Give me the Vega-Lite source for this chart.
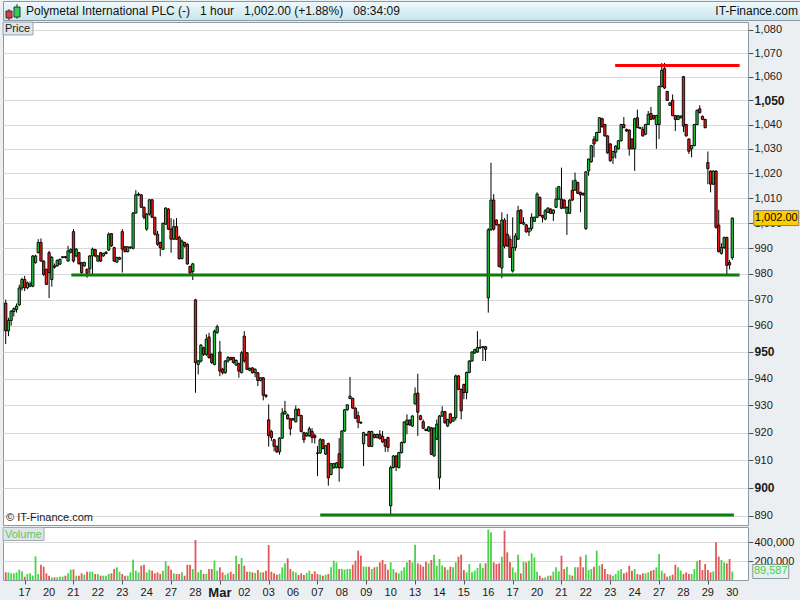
{
"$schema": "https://vega.github.io/schema/vega-lite/v6.json",
"padding": 0,
"spacing": 2,
"bounds": "flush",
"background": "#eceff1",
"config": {
  "font": "Liberation Sans",
  "view": {"stroke": "#8d99a3", "fill": "#ffffff"},
  "axis": {"labelFont": "Liberation Sans", "labelColor": "#1a1a1a", "tickColor": "#555555", "domain": false, "title": null}
},
"datasets": {
"days": [
{"i":0,"d":"17"},{"i":9,"d":"20"},{"i":18,"d":"21"},{"i":27,"d":"22"},{"i":36,"d":"23"},{"i":45,"d":"24"},{"i":54,"d":"27"},{"i":63,"d":"28"},{"i":72,"d":"Mar"},{"i":81,"d":"02"},
{"i":90,"d":"03"},{"i":99,"d":"06"},{"i":108,"d":"07"},{"i":117,"d":"08"},{"i":126,"d":"09"},{"i":135,"d":"10"},{"i":144,"d":"13"},{"i":153,"d":"14"},{"i":162,"d":"15"},{"i":171,"d":"16"},
{"i":180,"d":"17"},{"i":189,"d":"20"},{"i":198,"d":"21"},{"i":207,"d":"22"},{"i":216,"d":"23"},{"i":225,"d":"24"},{"i":234,"d":"27"},{"i":243,"d":"28"},{"i":252,"d":"29"},{"i":261,"d":"30"}
],
"k": [
{"i":-7,"o":968.7,"h":970,"l":953,"c":958,"v":80700},
{"i":-6,"o":958,"h":963,"l":956,"c":962,"v":80700},
{"i":-5,"o":962,"h":966,"l":960,"c":965.5,"v":70200},
{"i":-4,"o":965.4,"h":967,"l":963.5,"c":966.5,"v":70200},
{"i":-3,"o":966.2,"h":968.5,"l":965,"c":967.5,"v":80700},
{"i":-2,"o":968,"h":975.8,"l":967.5,"c":974.5,"v":108800},
{"i":-1,"o":974.5,"h":978.5,"l":973.5,"c":977.8,"v":91200},
{"i":0,"o":977.8,"h":979.2,"l":973.3,"c":974.6,"v":35100},
{"i":1,"o":974.6,"h":977,"l":974,"c":976.5,"v":63200},
{"i":2,"o":975.2,"h":977,"l":974.8,"c":976,"v":70200},
{"i":3,"o":975.2,"h":987.3,"l":974.8,"c":987,"v":45600},
{"i":4,"o":984.4,"h":987.5,"l":984,"c":987,"v":249100},
{"i":5,"o":988.3,"h":993.6,"l":988,"c":992.3,"v":63200},
{"i":6,"o":992.3,"h":993.9,"l":984.8,"c":985,"v":161400},
{"i":7,"o":985,"h":985.3,"l":979.2,"c":979.8,"v":140400},
{"i":8,"o":981.8,"h":982,"l":975.6,"c":975.9,"v":70200},
{"i":9,"o":988.3,"h":989,"l":970.6,"c":980.5,"v":45600},
{"i":10,"o":977.8,"h":987,"l":975,"c":986.4,"v":28100},
{"i":11,"o":983.1,"h":984,"l":982,"c":982.6,"v":28100},
{"i":12,"o":983.1,"h":985.6,"l":982.8,"c":985.3,"v":28100},
{"i":13,"o":983.8,"h":986,"l":983.5,"c":985.7,"v":35100},
{"i":14,"o":986.4,"h":986.9,"l":986,"c":986.7,"v":35100},
{"i":15,"o":986.7,"h":987,"l":986,"c":986.4,"v":45600},
{"i":16,"o":985,"h":991,"l":984.8,"c":989,"v":70200},
{"i":17,"o":988.5,"h":990,"l":988,"c":989.5,"v":108800},
{"i":18,"o":996.6,"h":997.6,"l":984.4,"c":985,"v":112300},
{"i":19,"o":987,"h":990,"l":986.5,"c":989.7,"v":45600},
{"i":20,"o":988.3,"h":988.6,"l":983.5,"c":984,"v":45600},
{"i":21,"o":984.4,"h":984.6,"l":979.8,"c":980.5,"v":70200},
{"i":22,"o":983.1,"h":984.8,"l":982.8,"c":984.4,"v":56100},
{"i":23,"o":981.8,"h":982,"l":978.5,"c":980.2,"v":87700},
{"i":24,"o":982,"h":987.3,"l":980,"c":987,"v":87700},
{"i":25,"o":987,"h":990.3,"l":979.9,"c":989.7,"v":87700},
{"i":26,"o":989.5,"h":989.8,"l":986.5,"c":987,"v":63200},
{"i":27,"o":985,"h":987.3,"l":984.8,"c":987,"v":63200},
{"i":28,"o":988.3,"h":988.6,"l":984.6,"c":985,"v":45600},
{"i":29,"o":987,"h":988.3,"l":986.7,"c":988,"v":45600},
{"i":30,"o":988,"h":988.8,"l":987.6,"c":988.5,"v":45600},
{"i":31,"o":989.3,"h":996.3,"l":989,"c":995.6,"v":63200},
{"i":32,"o":995.8,"h":996,"l":990.6,"c":991,"v":70200},
{"i":33,"o":990.3,"h":990.6,"l":984.6,"c":985,"v":115800},
{"i":34,"o":984.6,"h":986.7,"l":984.3,"c":986.4,"v":133300},
{"i":35,"o":985.7,"h":986.7,"l":985.4,"c":986.4,"v":87700},
{"i":36,"o":996.6,"h":997.6,"l":980.5,"c":989.7,"v":63200},
{"i":37,"o":990.6,"h":991,"l":988.4,"c":988.7,"v":45600},
{"i":38,"o":988.7,"h":990.9,"l":988.4,"c":990.6,"v":45600},
{"i":39,"o":990.2,"h":990.8,"l":989.8,"c":990.5,"v":80700},
{"i":40,"o":990,"h":1004.4,"l":989.6,"c":1004,"v":214000},
{"i":41,"o":1004,"h":1013.2,"l":1003.8,"c":1011.3,"v":98300},
{"i":42,"o":1011.3,"h":1012.3,"l":1010.8,"c":1011.6,"v":80700},
{"i":43,"o":1011.3,"h":1011.6,"l":1006,"c":1006.3,"v":150900},
{"i":44,"o":1006.3,"h":1006.6,"l":1001.5,"c":1002.3,"v":161400},
{"i":45,"o":997.6,"h":1004,"l":996.9,"c":1003.6,"v":80700},
{"i":46,"o":1003.6,"h":1009.6,"l":1003,"c":1009.3,"v":108800},
{"i":47,"o":1009.3,"h":1009.6,"l":1002,"c":1002.3,"v":98300},
{"i":48,"o":1002.3,"h":1002.5,"l":995,"c":995.6,"v":70200},
{"i":49,"o":995.6,"h":996.9,"l":991,"c":991.6,"v":80700},
{"i":50,"o":992.3,"h":992.6,"l":986.9,"c":990.3,"v":63200},
{"i":51,"o":989.6,"h":1000.2,"l":989.3,"c":999.9,"v":98300},
{"i":52,"o":999.6,"h":1006.3,"l":999.3,"c":1006,"v":196500},
{"i":53,"o":1005.6,"h":1006,"l":997.3,"c":997.6,"v":150900},
{"i":54,"o":997.6,"h":1002,"l":988.3,"c":993.6,"v":108800},
{"i":55,"o":993.6,"h":1001.5,"l":993.3,"c":998.6,"v":70200},
{"i":56,"o":998.6,"h":1002,"l":993.3,"c":993.6,"v":63200},
{"i":57,"o":994.3,"h":995,"l":985.5,"c":986,"v":63200},
{"i":58,"o":986,"h":993.5,"l":985.7,"c":992.9,"v":80700},
{"i":59,"o":992.3,"h":992.6,"l":990.3,"c":990.9,"v":45600},
{"i":60,"o":991.6,"h":992,"l":983.5,"c":983.9,"v":161400},
{"i":61,"o":982.9,"h":983.2,"l":979.6,"c":980.3,"v":161400},
{"i":62,"o":980.9,"h":984.3,"l":977.6,"c":983.9,"v":115800},
{"i":63,"o":969.9,"h":970.3,"l":934.7,"c":946,"v":421100},
{"i":64,"o":945.3,"h":947,"l":941.6,"c":946.6,"v":80700},
{"i":65,"o":946.6,"h":953,"l":946,"c":952.6,"v":108800},
{"i":66,"o":951.6,"h":952,"l":948.5,"c":949.1,"v":63200},
{"i":67,"o":949.1,"h":956.7,"l":948.5,"c":954.8,"v":63200},
{"i":68,"o":955.7,"h":957.3,"l":947.5,"c":947.9,"v":115800},
{"i":69,"o":949.1,"h":949.5,"l":945.5,"c":946,"v":115800},
{"i":70,"o":945.3,"h":958.5,"l":945,"c":957.9,"v":203500},
{"i":71,"o":957.3,"h":960.4,"l":957,"c":959.6,"v":98300},
{"i":72,"o":950,"h":954.2,"l":940.9,"c":942.8,"v":133300},
{"i":73,"o":943.5,"h":944,"l":941.5,"c":942.2,"v":80700},
{"i":74,"o":942.2,"h":947,"l":941.8,"c":946.6,"v":56100},
{"i":75,"o":946.6,"h":948.5,"l":946,"c":947.9,"v":70200},
{"i":76,"o":947.9,"h":948.2,"l":946.8,"c":947.2,"v":87700},
{"i":77,"o":947.9,"h":948.2,"l":945.6,"c":946,"v":63200},
{"i":78,"o":945.1,"h":947.2,"l":944.8,"c":946.8,"v":256200},
{"i":79,"o":945.6,"h":946,"l":940.3,"c":942.8,"v":168400},
{"i":80,"o":942.2,"h":950.3,"l":942,"c":949.7,"v":231600},
{"i":81,"o":956,"h":957.9,"l":946,"c":946.6,"v":150900},
{"i":82,"o":949.7,"h":950,"l":943.2,"c":943.5,"v":87700},
{"i":83,"o":943.1,"h":944.2,"l":942.8,"c":943.8,"v":87700},
{"i":84,"o":944,"h":944.3,"l":941.9,"c":942.2,"v":80700},
{"i":85,"o":942.2,"h":943.8,"l":940.5,"c":943.5,"v":73700},
{"i":86,"o":942.2,"h":942.5,"l":937.2,"c":939.3,"v":105300},
{"i":87,"o":939.3,"h":940.6,"l":939,"c":940.3,"v":80700},
{"i":88,"o":940.3,"h":940.6,"l":931.9,"c":933.8,"v":80700},
{"i":89,"o":933.8,"h":934.2,"l":932.8,"c":933.4,"v":98300},
{"i":90,"o":924.7,"h":930.4,"l":914.9,"c":918.9,"v":368400},
{"i":91,"o":920.4,"h":921,"l":917,"c":918.2,"v":87700},
{"i":92,"o":917.4,"h":917.7,"l":913.2,"c":915,"v":70200},
{"i":93,"o":915,"h":915.3,"l":912.6,"c":913,"v":56100},
{"i":94,"o":913,"h":918.3,"l":912,"c":918,"v":63200},
{"i":95,"o":918,"h":929,"l":917.7,"c":927.2,"v":133300},
{"i":96,"o":926.9,"h":931.7,"l":926.6,"c":927.8,"v":175500},
{"i":97,"o":926.5,"h":927,"l":924.8,"c":925.1,"v":228100},
{"i":98,"o":925.1,"h":925.4,"l":919,"c":921.4,"v":115800},
{"i":99,"o":924.7,"h":925.4,"l":924.4,"c":925.1,"v":91200},
{"i":100,"o":924,"h":930,"l":923.7,"c":928.6,"v":80700},
{"i":101,"o":928.6,"h":928.9,"l":926,"c":926.3,"v":52600},
{"i":102,"o":926.3,"h":926.6,"l":920.1,"c":920.4,"v":70200},
{"i":103,"o":920,"h":920.3,"l":916.2,"c":917.4,"v":52600},
{"i":104,"o":918.8,"h":920.1,"l":918.5,"c":919.8,"v":73700},
{"i":105,"o":918.8,"h":922.2,"l":918.5,"c":921.4,"v":98300},
{"i":106,"o":920.4,"h":921.6,"l":916.2,"c":918.2,"v":63200},
{"i":107,"o":918.9,"h":919.6,"l":916,"c":918.2,"v":91200},
{"i":108,"o":912.6,"h":915.1,"l":904.2,"c":912.4,"v":63200},
{"i":109,"o":912.6,"h":918,"l":912.3,"c":917.4,"v":56100},
{"i":110,"o":917.4,"h":917.7,"l":913.9,"c":914.2,"v":45600},
{"i":111,"o":912.2,"h":915.5,"l":911.9,"c":915.2,"v":56100},
{"i":112,"o":916,"h":916.3,"l":900.8,"c":903.6,"v":63200},
{"i":113,"o":904.8,"h":909,"l":904.5,"c":908.7,"v":133300},
{"i":114,"o":907.2,"h":909,"l":906.9,"c":908.7,"v":203500},
{"i":115,"o":907.3,"h":909.3,"l":907,"c":909,"v":186000},
{"i":116,"o":912.3,"h":918,"l":902.2,"c":907.2,"v":115800},
{"i":117,"o":907.2,"h":920.9,"l":906.9,"c":920.6,"v":115800},
{"i":118,"o":920.6,"h":928.7,"l":920.3,"c":928.4,"v":108800},
{"i":119,"o":928.4,"h":930.5,"l":928.1,"c":930.2,"v":115800},
{"i":120,"o":932.6,"h":940.6,"l":932.3,"c":933.4,"v":115800},
{"i":121,"o":932.6,"h":932.9,"l":928.7,"c":929,"v":161400},
{"i":122,"o":929,"h":929.3,"l":925,"c":925.3,"v":203500},
{"i":123,"o":926.2,"h":927.8,"l":921.6,"c":923.8,"v":308800},
{"i":124,"o":923.8,"h":924.1,"l":923.2,"c":923.5,"v":256200},
{"i":125,"o":915.9,"h":920.3,"l":907.8,"c":920,"v":140400},
{"i":126,"o":919.1,"h":919.6,"l":918.8,"c":919.3,"v":140400},
{"i":127,"o":920.4,"h":920.7,"l":914.7,"c":915,"v":140400},
{"i":128,"o":915,"h":920.7,"l":914.7,"c":920.4,"v":115800},
{"i":129,"o":919.3,"h":919.6,"l":917.9,"c":918.2,"v":133300},
{"i":130,"o":918.2,"h":919.6,"l":917.9,"c":919.3,"v":140400},
{"i":131,"o":919.3,"h":920.9,"l":917.5,"c":917.8,"v":186000},
{"i":132,"o":918.6,"h":920.6,"l":916.3,"c":916.6,"v":210500},
{"i":133,"o":917.4,"h":917.7,"l":913,"c":915,"v":168400},
{"i":134,"o":918.2,"h":918.5,"l":913,"c":914.6,"v":108800},
{"i":135,"o":893.6,"h":908,"l":890.3,"c":907.3,"v":186000},
{"i":136,"o":907.3,"h":911.8,"l":907,"c":911.5,"v":115800},
{"i":137,"o":911.5,"h":911.8,"l":906,"c":907.6,"v":80700},
{"i":138,"o":907.3,"h":913,"l":907,"c":912.7,"v":70200},
{"i":139,"o":912.7,"h":916.7,"l":912.4,"c":916.4,"v":98300},
{"i":140,"o":916.4,"h":924.2,"l":916.1,"c":923.9,"v":133300},
{"i":141,"o":923,"h":926.7,"l":919.4,"c":924.6,"v":186000},
{"i":142,"o":924.6,"h":924.9,"l":922.5,"c":922.8,"v":210500},
{"i":143,"o":922.4,"h":926.4,"l":922.1,"c":926.1,"v":186000},
{"i":144,"o":930.6,"h":936.7,"l":930.3,"c":934.3,"v":372000},
{"i":145,"o":934.6,"h":941.8,"l":918.8,"c":927.5,"v":175500},
{"i":146,"o":926.2,"h":926.5,"l":924.5,"c":924.8,"v":161400},
{"i":147,"o":924,"h":924.8,"l":921.3,"c":921.6,"v":140400},
{"i":148,"o":921.2,"h":921.5,"l":920.5,"c":920.8,"v":193000},
{"i":149,"o":920.6,"h":922.4,"l":920.3,"c":922.1,"v":175500},
{"i":150,"o":921.8,"h":922.1,"l":911.8,"c":912.1,"v":210500},
{"i":151,"o":911.5,"h":921.9,"l":911.2,"c":921.6,"v":266700},
{"i":152,"o":917.6,"h":924.8,"l":917.3,"c":923.1,"v":150900},
{"i":153,"o":903.6,"h":926.5,"l":899.4,"c":926.1,"v":221100},
{"i":154,"o":926.1,"h":929.7,"l":925.8,"c":927.7,"v":150900},
{"i":155,"o":927.7,"h":928,"l":923.3,"c":923.6,"v":133300},
{"i":156,"o":922.4,"h":925.1,"l":922.1,"c":924.8,"v":108800},
{"i":157,"o":926.9,"h":927.2,"l":923.3,"c":923.6,"v":140400},
{"i":158,"o":924.2,"h":925.8,"l":923.9,"c":925.5,"v":133300},
{"i":159,"o":925.5,"h":941.5,"l":924.5,"c":941,"v":186000},
{"i":160,"o":941,"h":941.3,"l":935.7,"c":936,"v":245600},
{"i":161,"o":936,"h":936.3,"l":924.9,"c":928,"v":266700},
{"i":162,"o":937.8,"h":938.1,"l":932.3,"c":934.8,"v":105300},
{"i":163,"o":934.8,"h":942.6,"l":932.3,"c":942.3,"v":80700},
{"i":164,"o":942.3,"h":946.9,"l":942,"c":946.6,"v":168400},
{"i":165,"o":946.6,"h":950.3,"l":946.3,"c":950,"v":80700},
{"i":166,"o":949.6,"h":951.2,"l":949.3,"c":950.9,"v":98300},
{"i":167,"o":950,"h":957.9,"l":949.7,"c":951.7,"v":126300},
{"i":168,"o":951.5,"h":954.8,"l":951.2,"c":951.8,"v":175500},
{"i":169,"o":951.8,"h":952.3,"l":946.6,"c":952,"v":126300},
{"i":170,"o":952,"h":952.3,"l":946.6,"c":951,"v":175500},
{"i":171,"o":970.7,"h":998,"l":965,"c":997.3,"v":529900},
{"i":172,"o":997.3,"h":1024.3,"l":997,"c":1009.2,"v":501800},
{"i":173,"o":1009.2,"h":1011.6,"l":997,"c":997.6,"v":186000},
{"i":174,"o":1001.2,"h":1001.5,"l":999,"c":999.3,"v":168400},
{"i":175,"o":999.3,"h":999.6,"l":982.5,"c":982.9,"v":175500},
{"i":176,"o":982.3,"h":1004.3,"l":978.3,"c":1001.2,"v":245600},
{"i":177,"o":1001.2,"h":1002,"l":990,"c":990.9,"v":519300},
{"i":178,"o":995.6,"h":1003.6,"l":990.6,"c":990.9,"v":291200},
{"i":179,"o":993.6,"h":995,"l":986.2,"c":986.5,"v":186000},
{"i":180,"o":981.1,"h":1002.3,"l":980.5,"c":990.3,"v":133300},
{"i":181,"o":990.3,"h":996,"l":989,"c":994.9,"v":80700},
{"i":182,"o":993.6,"h":1006.9,"l":993.3,"c":1004.9,"v":266700},
{"i":183,"o":1005.2,"h":1005.5,"l":999.6,"c":999.9,"v":70200},
{"i":184,"o":999.6,"h":1002.3,"l":999.3,"c":1000.2,"v":193000},
{"i":185,"o":999.3,"h":999.6,"l":996.2,"c":996.5,"v":186000},
{"i":186,"o":996.5,"h":998.2,"l":994.9,"c":997.9,"v":203500},
{"i":187,"o":997.9,"h":1003.9,"l":996.9,"c":1002.3,"v":280700},
{"i":188,"o":1000.7,"h":1002.6,"l":1000.4,"c":1002.3,"v":238600},
{"i":189,"o":1002.3,"h":1012.3,"l":1002,"c":1011.6,"v":87700},
{"i":190,"o":1010.3,"h":1010.6,"l":1002.7,"c":1003,"v":45600},
{"i":191,"o":1003,"h":1003.3,"l":1000.3,"c":1002.3,"v":21100},
{"i":192,"o":1001.6,"h":1005.6,"l":1001.1,"c":1004.9,"v":28100},
{"i":193,"o":1004.3,"h":1006.3,"l":1004,"c":1006,"v":45600},
{"i":194,"o":1005.6,"h":1005.9,"l":1003.6,"c":1003.9,"v":45600},
{"i":195,"o":1003.9,"h":1005.5,"l":1000.9,"c":1005.2,"v":87700},
{"i":196,"o":1006.3,"h":1014.3,"l":1006,"c":1009.6,"v":133300},
{"i":197,"o":1009.6,"h":1014.9,"l":1009.3,"c":1014.6,"v":91200},
{"i":198,"o":1009.6,"h":1022.3,"l":1005.6,"c":1005.9,"v":256200},
{"i":199,"o":1009.2,"h":1009.5,"l":1005.7,"c":1006,"v":115800},
{"i":200,"o":1003.9,"h":1006.6,"l":995.3,"c":1006.3,"v":140400},
{"i":201,"o":1003.9,"h":1009.5,"l":1003.6,"c":1009.2,"v":56100},
{"i":202,"o":1013.2,"h":1017.2,"l":1008.9,"c":1009.2,"v":45600},
{"i":203,"o":1013.2,"h":1020.3,"l":1012.9,"c":1017.2,"v":133300},
{"i":204,"o":1016.3,"h":1016.6,"l":1011.6,"c":1011.9,"v":133300},
{"i":205,"o":1012.3,"h":1012.6,"l":1004.3,"c":1011.3,"v":245600},
{"i":206,"o":1011.9,"h":1012.2,"l":1011,"c":1011.3,"v":133300},
{"i":207,"o":997.8,"h":1020.9,"l":997.3,"c":1020.6,"v":266700},
{"i":208,"o":1021,"h":1026,"l":1019,"c":1025.8,"v":105300},
{"i":209,"o":1024.7,"h":1031.6,"l":1024.3,"c":1031.3,"v":115800},
{"i":210,"o":1034,"h":1035.3,"l":1026.5,"c":1032,"v":140400},
{"i":211,"o":1033.3,"h":1037,"l":1033,"c":1036.7,"v":308800},
{"i":212,"o":1036.7,"h":1043,"l":1036.5,"c":1042.8,"v":150900},
{"i":213,"o":1042.4,"h":1042.8,"l":1038.7,"c":1039.1,"v":168400},
{"i":214,"o":1040,"h":1040.3,"l":1035,"c":1035.3,"v":115800},
{"i":215,"o":1035.3,"h":1035.6,"l":1028,"c":1028.3,"v":63200},
{"i":216,"o":1032,"h":1032.3,"l":1024.7,"c":1025.1,"v":56100},
{"i":217,"o":1026.5,"h":1029.2,"l":1023.8,"c":1028.9,"v":45600},
{"i":218,"o":1028.6,"h":1031.4,"l":1026,"c":1031.1,"v":63200},
{"i":219,"o":1030,"h":1033.6,"l":1029.7,"c":1033.3,"v":98300},
{"i":220,"o":1033.3,"h":1040.3,"l":1033,"c":1040,"v":115800},
{"i":221,"o":1040,"h":1043.1,"l":1038.5,"c":1038.7,"v":70200},
{"i":222,"o":1038,"h":1038.3,"l":1037,"c":1037.3,"v":80700},
{"i":223,"o":1037.7,"h":1038,"l":1027.2,"c":1030,"v":150900},
{"i":224,"o":1034,"h":1034.3,"l":1029.7,"c":1030,"v":98300},
{"i":225,"o":1030,"h":1042.8,"l":1021,"c":1042.4,"v":115800},
{"i":226,"o":1042.8,"h":1046.2,"l":1038.5,"c":1038.7,"v":63200},
{"i":227,"o":1038.7,"h":1039,"l":1038.1,"c":1038.4,"v":56100},
{"i":228,"o":1038,"h":1039.1,"l":1035,"c":1035.3,"v":70200},
{"i":229,"o":1036,"h":1040.3,"l":1035.6,"c":1040,"v":70200},
{"i":230,"o":1040,"h":1045.6,"l":1039.8,"c":1044.2,"v":80700},
{"i":231,"o":1044.6,"h":1047.3,"l":1041.8,"c":1042.1,"v":98300},
{"i":232,"o":1043.7,"h":1044,"l":1042,"c":1042.4,"v":105300},
{"i":233,"o":1040,"h":1044,"l":1030,"c":1043.7,"v":133300},
{"i":234,"o":1040,"h":1056.2,"l":1034,"c":1055.9,"v":273700},
{"i":235,"o":1055.9,"h":1065.8,"l":1055.5,"c":1062.7,"v":98300},
{"i":236,"o":1063.4,"h":1065.8,"l":1054.8,"c":1055.2,"v":70200},
{"i":237,"o":1053.8,"h":1054,"l":1049.8,"c":1050,"v":35100},
{"i":238,"o":1048,"h":1049.3,"l":1047.7,"c":1049,"v":45600},
{"i":239,"o":1050.1,"h":1052.5,"l":1043.4,"c":1043.7,"v":56100},
{"i":240,"o":1043.7,"h":1044,"l":1037.3,"c":1042.1,"v":161400},
{"i":241,"o":1042.1,"h":1043.9,"l":1041.8,"c":1043.6,"v":133300},
{"i":242,"o":1042.8,"h":1043.8,"l":1042.5,"c":1043.5,"v":98300},
{"i":243,"o":1060,"h":1060.3,"l":1036.9,"c":1039.3,"v":63200},
{"i":244,"o":1040,"h":1040.3,"l":1035,"c":1035.3,"v":80700},
{"i":245,"o":1034,"h":1034.3,"l":1027.9,"c":1029,"v":63200},
{"i":246,"o":1030,"h":1031.6,"l":1026.5,"c":1031.3,"v":63200},
{"i":247,"o":1031.3,"h":1040.3,"l":1031,"c":1040,"v":115800},
{"i":248,"o":1040,"h":1046.2,"l":1039.7,"c":1045.9,"v":196500},
{"i":249,"o":1046.5,"h":1048,"l":1044.6,"c":1044.9,"v":210500},
{"i":250,"o":1043.4,"h":1043.7,"l":1041.8,"c":1042.1,"v":105300},
{"i":251,"o":1042.1,"h":1042.4,"l":1038.4,"c":1038.7,"v":168400},
{"i":252,"o":1024.4,"h":1028.9,"l":1015.6,"c":1021.9,"v":105300},
{"i":253,"o":1020.9,"h":1021.2,"l":1012.3,"c":1015.6,"v":80700},
{"i":254,"o":1015.6,"h":1021.2,"l":1015.3,"c":1020.9,"v":91200},
{"i":255,"o":1020.9,"h":1021.2,"l":997.8,"c":998.3,"v":396500},
{"i":256,"o":999.2,"h":1005.3,"l":988.4,"c":988.7,"v":245600},
{"i":257,"o":988,"h":992,"l":987.5,"c":990.3,"v":210500},
{"i":258,"o":990.3,"h":994.6,"l":989.8,"c":994.3,"v":186000},
{"i":259,"o":994.3,"h":994.6,"l":979.8,"c":983.3,"v":175500},
{"i":260,"o":984.4,"h":985.4,"l":981.7,"c":983.5,"v":221100},
{"i":261,"o":986.3,"h":1002.2,"l":985.5,"c":1002,"v":89587}
]},
"vconcat": [
{
  "width": 800, "height": 19,
  "view": {"stroke": "#8d99a3", "fill": {"gradient": "linear", "x1": 0, "y1": 0, "x2": 0, "y2": 1, "stops": [{"offset": 0, "color": "#eef9fc"}, {"offset": 1, "color": "#c8e5ee"}]}},
  "data": {"values": [
    {"t": "Polymetal International PLC (-)\u00a0\u00a0 1 hour\u00a0\u00a0 1,002.00 (+1.88%)\u00a0\u00a0 08:34:09", "s": "L"},
    {"t": "IT-Finance.com", "s": "R"}
  ]},
  "layer": [
    {"transform": [{"filter": "datum.s == 'L'"}],
     "mark": {"type": "text", "align": "left", "baseline": "middle", "dx": 23, "fontSize": 12, "color": "#111111"},
     "encoding": {"x": {"field": "s", "type": "nominal", "scale": {"type": "point", "domain": ["L", "R"], "padding": 0}, "axis": null}, "text": {"field": "t"}}},
    {"transform": [{"filter": "datum.s == 'R'"}],
     "mark": {"type": "text", "align": "right", "baseline": "middle", "dx": -5, "fontSize": 12, "color": "#111111"},
     "encoding": {"x": {"field": "s", "type": "nominal", "axis": null}, "text": {"field": "t"}}},
    {"transform": [{"filter": "datum.s == 'L'"}],
     "mark": {"type": "point", "shape": "M-0.43,-0.43H0.43V0.57H-0.43Z M0,-0.43V-0.71 M0,0.57V0.86", "size": 196, "filled": true, "opacity": 1, "fill": "#e8383c", "stroke": "#333333", "strokeWidth": 1, "xOffset": 6, "yOffset": 3.5},
     "encoding": {"x": {"field": "s", "type": "nominal", "axis": null}}},
    {"transform": [{"filter": "datum.s == 'L'"}],
     "mark": {"type": "point", "shape": "M-0.43,-0.57H0.43V0.86H-0.43Z M0,-0.57V-1 M0,0.86V1.14", "size": 196, "filled": true, "opacity": 1, "fill": "#2fd04a", "stroke": "#333333", "strokeWidth": 1, "xOffset": 14, "yOffset": 0.5},
     "encoding": {"x": {"field": "s", "type": "nominal", "axis": null}}}
  ]
},
{
  "width": 745, "height": 503,
  "data": {"name": "k"},
  "layer": [
    {"mark": {"type": "rule", "color": "#000000", "strokeWidth": 1},
     "encoding": {
       "x": {"field": "i", "type": "quantitative", "scale": {"domain": [-8, 266.8], "nice": false, "zero": false, "padding": 0}, "axis": null, "title": null},
       "y": {"field": "l", "type": "quantitative", "title": null,
             "scale": {"type": "log", "domain": [886.8, 1083.3], "nice": false, "zero": false},
             "axis": {"orient": "right", "values": [890,900,910,920,930,940,950,960,970,980,990,1000,1010,1020,1030,1040,1050,1060,1070,1080],
                      "format": ",d", "grid": true, "gridColor": "#d9d9d9", "tickSize": 5, "labelPadding": 1,
                      "labelFontSize": {"condition": {"test": "datum.value == 900 || datum.value == 950 || datum.value == 1050", "value": 12}, "value": 11},
                      "labelFontWeight": {"condition": {"test": "datum.value == 900 || datum.value == 950 || datum.value == 1050", "value": "bold"}, "value": "normal"}}},
       "y2": {"field": "h"}
     }},
    {"mark": {"type": "bar", "width": 2.3, "stroke": "#000000", "strokeWidth": 0.9},
     "encoding": {
       "x": {"field": "i", "type": "quantitative", "axis": null, "title": null},
       "y": {"field": "o", "type": "quantitative", "title": null},
       "y2": {"field": "c"},
       "color": {"condition": {"test": "datum.c >= datum.o", "value": "#20c23e"}, "value": "#ec1a1a"}
     }},
    {"data": {"values": [
       {"a": 17.2, "b": 263.7, "lvl": 979.6, "kind": "support"},
       {"a": 217.8, "b": 263.7, "lvl": 1064.7, "kind": "resistance"},
       {"a": 109.0, "b": 261.6, "lvl": 890.3, "kind": "support"}
     ]},
     "mark": {"type": "rule", "strokeWidth": 3},
     "encoding": {
       "x": {"field": "a", "type": "quantitative", "axis": null, "title": null},
       "x2": {"field": "b"},
       "y": {"field": "lvl", "type": "quantitative", "title": null},
       "color": {"field": "kind", "type": "nominal", "scale": {"domain": ["support", "resistance"], "range": ["#0a7d0a", "#ff0000"]}, "legend": null}
     }},
    {"data": {"values": [{}]},
     "mark": {"type": "point", "shape": "M-1,-0.43H1V0.43H-1Z", "size": 900, "filled": true, "opacity": 1, "fill": "#dfe5e9", "stroke": "#9aa5ae", "strokeWidth": 1, "xOffset": 15, "yOffset": 6.5},
     "encoding": {"x": {"datum": -8, "type": "quantitative", "axis": null}, "y": {"datum": 1083.3, "type": "quantitative", "title": null}}},
    {"data": {"values": [{}]},
     "mark": {"type": "text", "text": "Price", "align": "left", "baseline": "middle", "dx": 2, "dy": 7, "fontSize": 11, "color": "#222222"},
     "encoding": {"x": {"datum": -8, "type": "quantitative", "axis": null}, "y": {"datum": 1083.3, "type": "quantitative", "title": null}}},
    {"data": {"values": [{}]},
     "mark": {"type": "text", "text": "\u00a9 IT-Finance.com", "align": "left", "baseline": "middle", "dx": 3, "dy": -7.5, "fontSize": 11, "color": "#1a1a1a"},
     "encoding": {"x": {"datum": -8, "type": "quantitative", "axis": null}, "y": {"datum": 886.8, "type": "quantitative", "title": null}}},
    {"data": {"values": [{}]},
     "mark": {"type": "point", "shape": "M-1,-0.333H1V0.333H-1Z", "size": 2025, "filled": true, "opacity": 1, "fill": "#ffcc00", "stroke": "#808080", "strokeWidth": 1, "xOffset": 44},
     "encoding": {"x": {"datum": 261, "type": "quantitative", "axis": null}, "y": {"datum": 1002, "type": "quantitative", "title": null}}},
    {"data": {"values": [{}]},
     "mark": {"type": "text", "text": "1,002.00", "align": "center", "baseline": "middle", "dx": 44, "fontSize": 11, "color": "#000000"},
     "encoding": {"x": {"datum": 261, "type": "quantitative", "axis": null}, "y": {"datum": 1002, "type": "quantitative", "title": null}}}
  ]
},
{
  "width": 745, "height": 53,
  "data": {"name": "k"},
  "layer": [
    {"mark": {"type": "bar", "width": 1.8},
     "encoding": {
       "x": {"field": "i", "type": "quantitative", "title": null,
             "scale": {"domain": [-8, 266.8], "nice": false, "zero": false, "padding": 0},
             "axis": {"values": [0,9,18,27,36,45,54,63,72,81,90,99,108,117,126,135,144,153,162,171,180,189,198,207,216,225,234,243,252,261],
                      "labels": false, "tickSize": 4, "grid": false}},
       "y": {"field": "v", "type": "quantitative", "title": null,
             "scale": {"domain": [0, 557900], "nice": false},
             "axis": {"orient": "right", "values": [200000, 400000], "format": ",d", "grid": true, "gridColor": "#d9d9d9", "tickSize": 5, "labelPadding": 1, "labelFontSize": 11}},
       "color": {"condition": {"test": "datum.c >= datum.o", "value": "#47d547"}, "value": "#e25858"}
     }},
    {"data": {"name": "days"},
     "transform": [{"filter": "datum.d != 'Mar'"}],
     "mark": {"type": "text", "align": "center", "baseline": "middle", "dy": 13, "fontSize": 11, "color": "#1a1a1a"},
     "encoding": {"x": {"field": "i", "type": "quantitative"}, "y": {"datum": 0, "type": "quantitative"}, "text": {"field": "d"}}},
    {"data": {"name": "days"},
     "transform": [{"filter": "datum.d == 'Mar'"}],
     "mark": {"type": "text", "align": "center", "baseline": "middle", "dy": 13, "fontSize": 13, "fontWeight": "bold", "color": "#1a1a1a"},
     "encoding": {"x": {"field": "i", "type": "quantitative"}, "y": {"datum": 0, "type": "quantitative"}, "text": {"field": "d"}}},
    {"data": {"values": [{}]},
     "mark": {"type": "point", "shape": "M-1,-0.317H1V0.317H-1Z", "size": 1681, "filled": true, "opacity": 1, "fill": "#dfe6e9", "stroke": "#a0aab2", "strokeWidth": 1, "xOffset": 20.5, "yOffset": 7},
     "encoding": {"x": {"datum": -8, "type": "quantitative"}, "y": {"datum": 557900, "type": "quantitative"}}},
    {"data": {"values": [{}]},
     "mark": {"type": "text", "text": "Volume", "align": "left", "baseline": "middle", "dx": 2, "dy": 7.5, "fontSize": 11, "color": "#5cc85c"},
     "encoding": {"x": {"datum": -8, "type": "quantitative"}, "y": {"datum": 557900, "type": "quantitative"}}},
    {"data": {"values": [{}]},
     "mark": {"type": "point", "shape": "M-1,-0.39H1V0.39H-1Z", "size": 1296, "filled": true, "opacity": 1, "fill": "#e9eef0", "stroke": "#8a96a0", "strokeWidth": 1, "xOffset": 38.5},
     "encoding": {"x": {"datum": 261, "type": "quantitative"}, "y": {"datum": 89587, "type": "quantitative"}}},
    {"data": {"values": [{}]},
     "mark": {"type": "text", "text": "89,587", "align": "center", "baseline": "middle", "dx": 38.5, "fontSize": 11, "color": "#3fd43f"},
     "encoding": {"x": {"datum": 261, "type": "quantitative"}, "y": {"datum": 89587, "type": "quantitative"}}}
  ]
}
]
}
